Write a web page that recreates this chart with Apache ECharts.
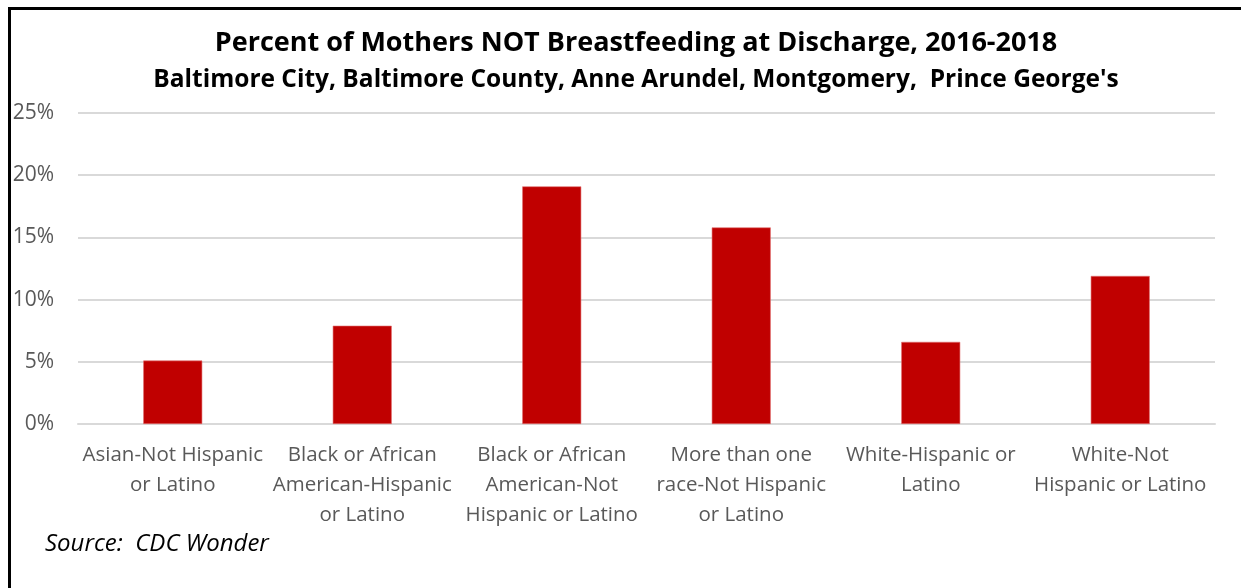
<!DOCTYPE html>
<html>
<head>
<meta charset="utf-8">
<script src="https://cdn.jsdelivr.net/npm/echarts@6/dist/echarts.min.js"></script>
<style>
  html, body { margin: 0; padding: 0; background: #fff; }
  #chart { width: 1241px; height: 588px; }
</style>
</head>
<body>
<div id="chart"></div>
<script>
const categories = [
  'Asian-Not Hispanic\nor Latino',
  'Black or African\nAmerican-Hispanic\nor Latino',
  'Black or African\nAmerican-Not\nHispanic or Latino',
  'More than one\nrace-Not Hispanic\nor Latino',
  'White-Hispanic or\nLatino',
  'White-Not\nHispanic or Latino'
]
const pctNotBreastfeeding = [5.1, 7.9, 19.1, 15.8, 6.6, 11.9]
const yTicks = [0, 5, 10, 15, 20, 25]

const chart = echarts.init(document.getElementById('chart'))
chart.setOption({
  animation: false,
  backgroundColor: '#fff',
  textStyle: { fontFamily: 'Open Sans' },
  graphic: [
    // black frame along top and left edge
    { type: 'rect', shape: { x: 8, y: 7, width: 1241, height: 3 }, style: { fill: '#000' } },
    { type: 'rect', shape: { x: 8, y: 7, width: 3, height: 590 }, style: { fill: '#000' } },
    {
      type: 'text', left: 45, top: 532,
      style: { text: 'Source:  CDC Wonder', font: 'italic 24px "Open Sans"', fill: '#000' }
    }
  ],
  title: [
    {
      text: 'Percent of Mothers NOT Breastfeeding at Discharge, 2016-2018',
      left: 636, textAlign: 'center', top: 30, padding: 0,
      textStyle: { fontSize: 27, fontWeight: 'bold', color: '#000', fontFamily: 'Open Sans' }
    },
    {
      text: "Baltimore City, Baltimore County, Anne Arundel, Montgomery,  Prince George's",
      left: 636, textAlign: 'center', top: 68, padding: 0,
      textStyle: { fontSize: 24.5, fontWeight: 'bold', color: '#000', fontFamily: 'Open Sans' }
    }
  ],
  grid: { left: 78, right: 26, top: 113, bottom: 164, containLabel: false },
  xAxis: {
    type: 'category',
    data: categories,
    axisLine: { show: true, lineStyle: { color: '#d9d9d9', width: 2 } },
    axisTick: { show: false },
    axisLabel: {
      color: '#595959', fontSize: 20.5, lineHeight: 30, margin: 16,
      interval: 0, align: 'center'
    }
  },
  yAxis: {
    type: 'value',
    min: yTicks[0],
    max: yTicks[yTicks.length - 1],
    interval: 5,
    axisLine: { show: false },
    axisTick: { show: false },
    splitLine: { lineStyle: { color: '#d9d9d9', width: 2 } },
    axisLabel: { color: '#595959', fontSize: 21, margin: 24, formatter: '{value}%' }
  },
  series: [{
    type: 'bar',
    data: pctNotBreastfeeding,
    barWidth: 59,
    itemStyle: { color: '#c00000', borderColor: '#e07070', borderWidth: 0.6 }
  }]
})
</script>
</body>
</html>
